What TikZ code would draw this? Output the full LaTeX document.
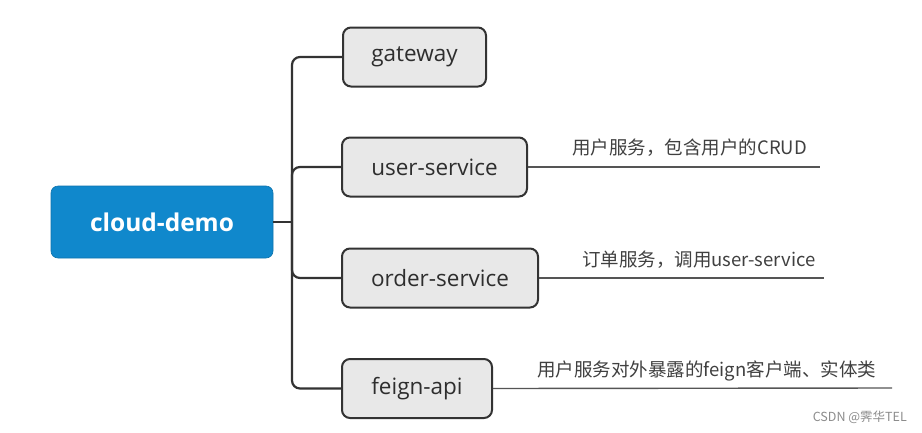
\documentclass[tikz,border=0pt]{standalone}
\usepackage{fontspec}
\setmainfont{Open Sans}
\newfontfamily\cjk{Noto Sans CJK SC}
\definecolor{rootblue}{HTML}{1088CC}
\definecolor{boxgray}{HTML}{E8E8E8}
\definecolor{edge}{HTML}{333333}
\definecolor{notegray}{HTML}{555555}
\begin{document}
\begin{tikzpicture}[x=1pt,y=-1pt,
  rootbox/.style={draw=rootblue!85!black, line width=0.6pt, fill=rootblue, rounded corners=7pt, text=white, font=\fontsize{24.5}{28}\selectfont\bfseries, minimum width=222pt, minimum height=72pt, inner sep=0pt},
  subbox/.style={draw=edge, line width=2pt, fill=boxgray, rounded corners=8pt, text=edge!90!black, font=\fontsize{22.5}{26}\selectfont, minimum height=59pt, inner sep=0pt},
  trunk/.style={draw=edge, line width=2.2pt, rounded corners=8pt},
  noteline/.style={draw=notegray, line width=1.4pt},
  notetext/.style={font=\cjk\fontsize{18.5}{22}\selectfont, text=black!75, inner sep=0pt, anchor=west},
]
\useasboundingbox (0,0) rectangle (922,432);
\fill[white] (0,0) rectangle (922,432);

\node[rootbox] (root) at (162,222) {cloud-demo};
\node[subbox, minimum width=143pt] (gw) at (414.5,57) {gateway};
\node[subbox, minimum width=185pt] (us) at (434.5,167) {user-service};
\node[subbox, minimum width=196pt] (os) at (440,278) {order-service};
\node[subbox, minimum width=150pt] (fa) at (417,388.5) {feign-api};

\coordinate (tk) at (292,222);
\draw[trunk] (root.east) -- (tk);
\draw[trunk] (gw.west) -| (tk) |- (fa.west);
\draw[trunk] (tk) |- (us.west);
\draw[trunk] (tk) |- (os.west);

\coordinate (ue) at (820,167);
\coordinate (oe) at (824,278);
\coordinate (fe) at (892,388);
\draw[noteline] (us.east) -- (ue);
\draw[noteline] (os.east) -- (oe);
\draw[noteline] (fa.east) -- (fe);

\node[notetext] (ut) at (572,148) {用户服务，包含用户的CRUD};
\node[notetext] (ot) at (582,260) {订单服务，调用user-service};
\node[notetext] (ft) at (537,371) {用户服务对外暴露的feign客户端、实体类};

\node[font=\cjk\fontsize{12.5}{14}\selectfont, text=black!45, anchor=east, inner sep=0pt] (wm) at (907,417) {CSDN @霁华TEL};
\end{tikzpicture}
\end{document}
